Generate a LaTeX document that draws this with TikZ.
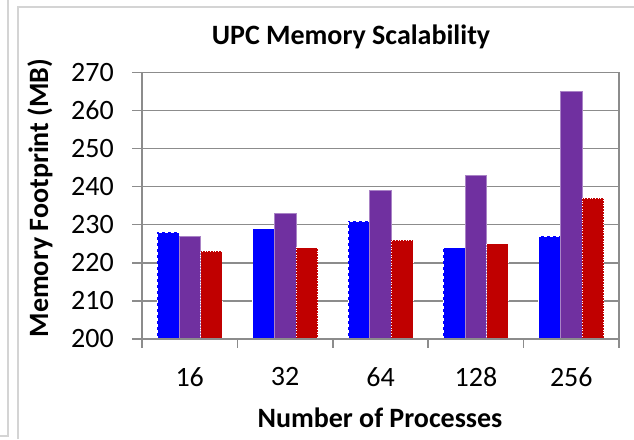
\documentclass[tikz,border=0pt]{standalone}
\usepackage{fontspec}
\setmainfont{Carlito}
\usetikzlibrary{positioning}
\definecolor{barblue}{HTML}{0000FF}
\definecolor{barpurple}{HTML}{7030A0}
\definecolor{barred}{HTML}{C00000}
\definecolor{gridgray}{HTML}{8C8C8C}
\definecolor{framegray}{HTML}{D4D4D4}
\tikzset{
  gridline/.style  = {draw=gridgray, line width=1.5pt},
  frameline/.style = {draw=framegray, line width=1.6pt},
  ticklabel/.style = {font=\fontsize{28}{32}\selectfont, inner sep=0pt},
  axtitle/.style   = {font=\fontsize{28}{32}\selectfont\bfseries, inner sep=0pt},
  bluebar/.style   = {fill=barblue, draw=white, dashed, line width=0.7pt},
  purplebar/.style = {fill=barpurple, draw=barpurple!60, line width=0.5pt},
  redbar/.style    = {fill=barred, draw=white, dotted, line width=0.7pt},
}
\begin{document}
\begin{tikzpicture}[x=1pt,y=-1pt]
\useasboundingbox (0,0) rectangle (634,439);
% chart frames
\draw[frameline] (0,436) -- (8,436) -- (8,0);
\draw[frameline] (18,439) -- (18,7) -- (634,7);
% gridlines and value ticks
\foreach \v in {200,210,...,270} {
  \pgfmathsetmacro{\yy}{339-(\v-200)*3.81}
  \draw[gridline] (132,\yy) -- (619,\yy);
  \node[ticklabel, anchor=east] (tick\v) at (114,\yy) {\v};
}
% bars: blue, purple, red per group
\foreach \n/\a/\b/\c [count=\i from 0] in {16/228/227/223, 32/229/233/224, 64/231/239/226, 128/224/243/225, 256/227/265/237} {
  \pgfmathsetmacro{\xc}{142+95.4*(\i+0.5)}
  \pgfmathsetmacro{\ya}{339-(\a-200)*3.81}
  \pgfmathsetmacro{\yb}{339-(\b-200)*3.81}
  \pgfmathsetmacro{\yc}{339-(\c-200)*3.81}
  \draw[bluebar]   (\xc-32.5,339) rectangle (\xc-10.8,\ya);
  \draw[purplebar] (\xc-10.8,339) rectangle (\xc+10.8,\yb);
  \draw[redbar]    (\xc+10.8,339) rectangle (\xc+32.5,\yc);
  \node[ticklabel] (cat\n) at (\xc,377) {\n};
}
% axes
\draw[gridline] (142,72) -- (142,348);
\draw[gridline] (619,72) -- (619,348);
\draw[gridline] (132,339) -- (619,339);
\foreach \k in {1,...,4} {
  \pgfmathsetmacro{\xt}{142+95.4*\k}
  \draw[gridline] (\xt,339) -- (\xt,348);
}
% titles
\node[axtitle] (title) at (351,37) {UPC Memory Scalability};
\node[axtitle] (xtitle) at (380,418) {Number of Processes};
\node[axtitle, rotate=90] (ytitle) at (40,198) {Memory Footprint (MB)};
\end{tikzpicture}
\end{document}
